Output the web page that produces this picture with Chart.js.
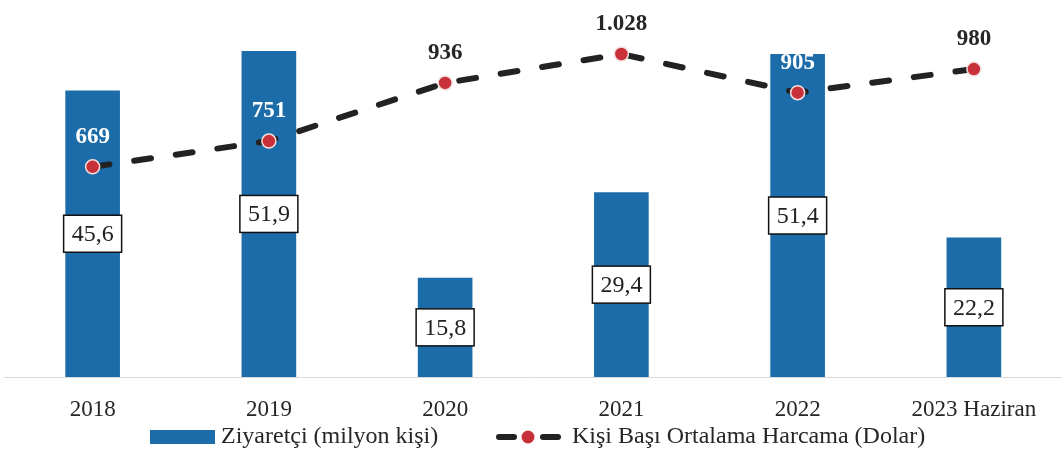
<!DOCTYPE html>
<html>
<head>
<meta charset="utf-8">
<script src="https://cdn.jsdelivr.net/npm/chart.js@4.4.0/dist/chart.umd.min.js"></script>
<style>
  html, body { margin: 0; padding: 0; background: #fff; }
  #wrap { width: 1062px; height: 454px; position: relative; }
</style>
</head>
<body>
<div id="wrap"><canvas id="myChart"></canvas></div>
<script>
const years = ['2018', '2019', '2020', '2021', '2022', '2023 Haziran'];
const visitors = [45.6, 51.9, 15.8, 29.4, 51.4, 22.2];
const spending = [669, 751, 936, 1028, 905, 980];
const visitorsLabel = 'Ziyaretçi (milyon kişi)';
const spendingLabel = 'Kişi Başı Ortalama Harcama (Dolar)';

const blue = '#1b6ca8';
const serif = '"Liberation Serif", "Times New Roman", serif';

function fmtComma(v) {
    return String(v).replace('.', ',');
}

function fmtThousands(v) {
    return String(v).replace(/\B(?=(\d{3})+(?!\d))/g, '.');
}

const labelPlugin = {
    id: 'labelPlugin',
    afterDatasetsDraw(chart) {
        const ctx = chart.ctx;
        const bars = chart.getDatasetMeta(0).data;
        const points = chart.getDatasetMeta(1).data;

        ctx.save();
        ctx.textAlign = 'center';
        ctx.textBaseline = 'middle';

        // value boxes in the middle of the bars
        ctx.font = '24px ' + serif;
        bars.forEach((bar, i) => {
            const cy = (bar.y + bar.base) / 2;
            const w = 58, h = 37;
            ctx.fillStyle = '#fff';
            ctx.fillRect(bar.x - w / 2, cy - h / 2, w, h);
            ctx.strokeStyle = '#111';
            ctx.lineWidth = 1.5;
            ctx.strokeRect(bar.x - w / 2, cy - h / 2, w, h);
            ctx.fillStyle = '#222';
            ctx.fillText(fmtComma(visitors[i]), bar.x, cy + 1);
        });

        // spending labels above the points (white when sitting on a bar)
        ctx.font = 'bold 23px ' + serif;
        points.forEach((pt, i) => {
            const ty = pt.y - 30;
            const bar = bars[i];
            const onBar = ty > bar.y;
            ctx.fillStyle = onBar ? '#fff' : '#262626';
            ctx.fillText(fmtThousands(spending[i]), pt.x, ty);
        });
        ctx.restore();
    },
    afterDraw(chart) {
        const ctx = chart.ctx;
        const y = 437;
        ctx.save();
        ctx.font = '24px ' + serif;
        ctx.textBaseline = 'middle';

        ctx.fillStyle = blue;
        ctx.fillRect(150, y - 7, 65, 14);
        ctx.fillStyle = '#262626';
        ctx.fillText(visitorsLabel, 221, y);

        ctx.strokeStyle = '#222';
        ctx.lineWidth = 6;
        ctx.lineCap = 'round';
        ctx.beginPath();
        ctx.moveTo(499, y);
        ctx.lineTo(514, y);
        ctx.moveTo(543, y);
        ctx.lineTo(558, y);
        ctx.stroke();
        ctx.beginPath();
        ctx.arc(528, y, 6.5, 0, Math.PI * 2);
        ctx.fillStyle = '#c8313a';
        ctx.fill();
        ctx.fillStyle = '#262626';
        ctx.fillText(spendingLabel, 572, y);
        ctx.restore();
    }
};

const ctx = document.getElementById('myChart').getContext('2d');

const myChart = new Chart(ctx, {
    data: {
        labels: years,
        datasets: [{
            type: 'bar',
            label: visitorsLabel,
            data: visitors,
            backgroundColor: blue,
            barPercentage: 0.31,
            categoryPercentage: 1,
            yAxisID: 'y',
            order: 2
        }, {
            type: 'line',
            label: spendingLabel,
            data: spending,
            borderColor: '#222',
            borderWidth: 6,
            borderDash: [17, 25],
            borderCapStyle: 'round',
            tension: 0,
            pointRadius: 7,
            pointBackgroundColor: '#c8313a',
            pointBorderColor: '#f4dede',
            pointBorderWidth: 1.5,
            yAxisID: 'y1',
            order: 1
        }]
    },
    options: {
        responsive: true,
        maintainAspectRatio: false,
        animation: false,
        layout: {
            autoPadding: false,
            padding: { left: 4.5, right: -6, top: 0, bottom: 32 }
        },
        plugins: {
            legend: { display: false },
            tooltip: { enabled: false }
        },
        scales: {
            x: {
                grid: { display: false, drawTicks: false },
                border: { display: true, color: '#d9d9d9', width: 1 },
                ticks: {
                    color: '#262626',
                    padding: 19,
                    maxRotation: 0,
                    font: { family: serif, size: 23 }
                },
                afterFit(scale) {
                    scale.height = 45;
                }
            },
            y: {
                display: false,
                min: 0,
                max: 60
            },
            y1: {
                display: false,
                position: 'right',
                min: 0,
                max: 1200
            }
        }
    },
    plugins: [labelPlugin]
});
</script>
</body>
</html>
